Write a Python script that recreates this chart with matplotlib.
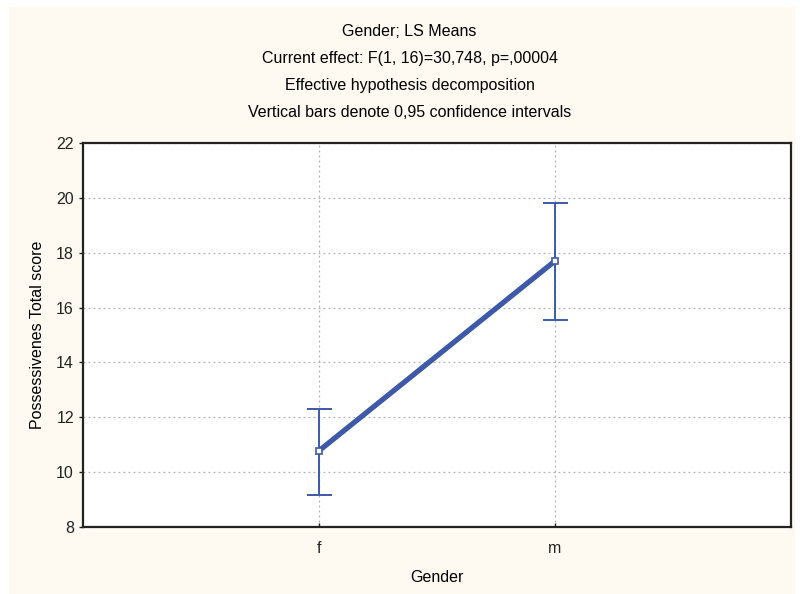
import numpy as np
import matplotlib
matplotlib.use("Agg")
from matplotlib import pyplot as plt
from matplotlib.patches import Rectangle

# LS means with 0.95 confidence intervals
groups = ["f", "m"]
means = [10.78, 17.70]
ci_low = [9.18, 15.56]
ci_high = [12.32, 19.82]

titles = [
  "Gender; LS Means",
  "Current effect: F(1, 16)=30,748, p=,00004",
  "Effective hypothesis decomposition",
  "Vertical bars denote 0,95 confidence intervals",
]
y_ticks = [8, 10, 12, 14, 16, 18, 20, 22]

blue = "#3d59a8"
plt.rcParams['font.family'] = ['Liberation Sans', 'DejaVu Sans']

fig = plt.figure(figsize=(8, 5.94), dpi=100, facecolor="white")
# cream panel behind everything
fig.patches.append(Rectangle((9 / 800, 0), 786 / 800, 587 / 594, transform=fig.transFigure,
                             facecolor="#fefaf2", edgecolor="none", zorder=-10))

ax = fig.add_axes([83 / 800, 1 - 527 / 594, 708 / 800, 384 / 594])
ax.set_facecolor("white")

x = np.arange(len(groups))
means = np.array(means)
yerr = np.vstack([means - np.array(ci_low), np.array(ci_high) - means])

ax.errorbar(x, means, yerr=yerr, fmt="none", ecolor=blue, elinewidth=1.4,
            capsize=9, capthick=1.4, zorder=3)
ax.plot(x, means, color=blue, lw=3.8, zorder=4, solid_capstyle="round")
ax.plot(x, means, ls="none", marker="s", ms=4.5, mfc="white", mec=blue, mew=1.2, zorder=5)

ax.set_xlim(-1, 2)
ax.set_ylim(8, 22)
ax.set_xticks(x)
ax.set_xticklabels(groups)
ax.set_yticks(y_ticks)
ax.grid(True, color="#b0b0b0", ls=(0, (1.5, 2.5)), lw=0.9)
ax.set_axisbelow(True)

for s in ax.spines.values():
  s.set_linewidth(1.6)
  s.set_color("#222222")

ax.tick_params(axis="both", labelsize=11.5, length=3, width=1, colors="#222222")
ax.tick_params(axis="x", direction="in", pad=10)
ax.set_xlabel("Gender", fontsize=11.5, labelpad=10)
ax.set_ylabel("Possessivenes Total score", fontsize=11.5, labelpad=8)

for i, t in enumerate(titles):
  fig.text(0.512, 1 - (31 + 27.3 * i) / 594, t, ha="center", va="center", fontsize=11.5)

fig.savefig("out.png", dpi=100, facecolor=fig.get_facecolor())
